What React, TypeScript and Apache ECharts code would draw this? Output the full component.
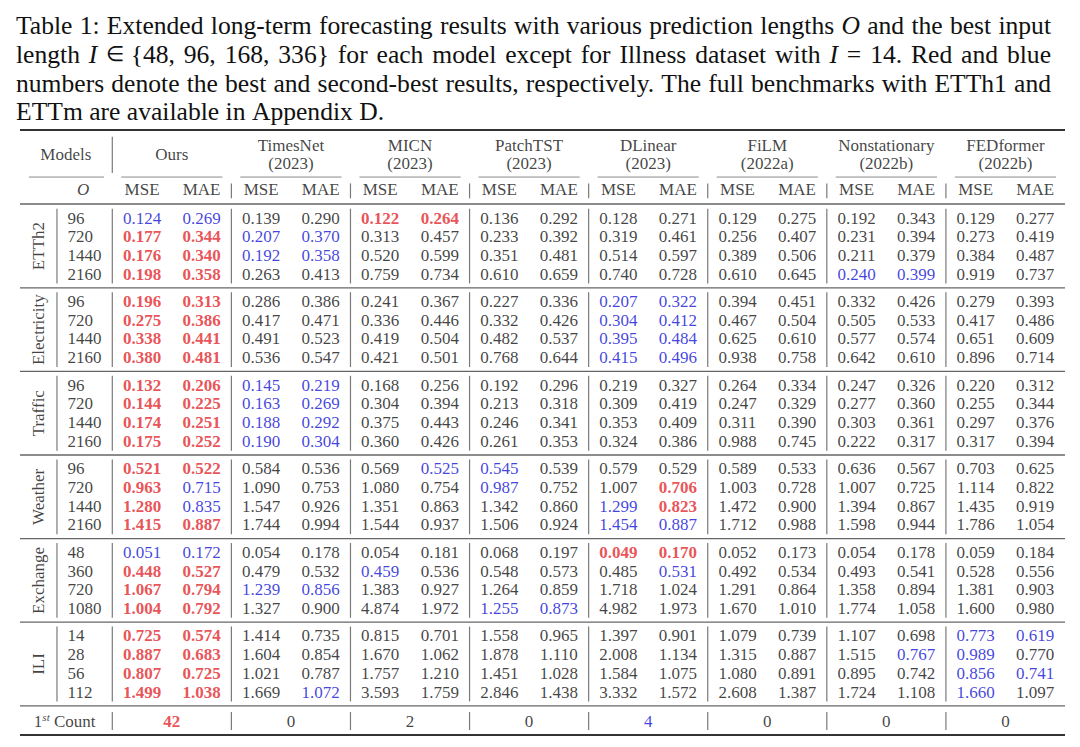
import React, { useEffect, useRef } from 'react';
import * as echarts from 'echarts';

// ---------------- data ----------------
const datasets = ['ETTh2', 'Electricity', 'Traffic', 'Weather', 'Exchange', 'ILI'];
const horizons = [
  [96, 720, 1440, 2160],
  [96, 720, 1440, 2160],
  [96, 720, 1440, 2160],
  [96, 720, 1440, 2160],
  [48, 360, 720, 1080],
  [14, 28, 56, 112],
];
const models = ['Ours', 'TimesNet', 'MICN', 'PatchTST', 'DLinear', 'FiLM', 'Nonstationary', 'FEDformer'];
const modelYears = ['', '(2023)', '(2023)', '(2023)', '(2023)', '(2022a)', '(2022b)', '(2022b)'];
const metrics = ['MSE', 'MAE'];

const oursMSE = [0.124, 0.177, 0.176, 0.198, 0.196, 0.275, 0.338, 0.380, 0.132, 0.144, 0.174, 0.175, 0.521, 0.963, 1.280, 1.415, 0.051, 0.448, 1.067, 1.004, 0.725, 0.887, 0.807, 1.499];
const oursMAE = [0.269, 0.344, 0.340, 0.358, 0.313, 0.386, 0.441, 0.481, 0.206, 0.225, 0.251, 0.252, 0.522, 0.715, 0.835, 0.887, 0.172, 0.527, 0.794, 0.792, 0.574, 0.683, 0.725, 1.038];
const timesNetMSE = [0.139, 0.207, 0.192, 0.263, 0.286, 0.417, 0.491, 0.536, 0.145, 0.163, 0.188, 0.190, 0.584, 1.090, 1.547, 1.744, 0.054, 0.479, 1.239, 1.327, 1.414, 1.604, 1.021, 1.669];
const timesNetMAE = [0.290, 0.370, 0.358, 0.413, 0.386, 0.471, 0.523, 0.547, 0.219, 0.269, 0.292, 0.304, 0.536, 0.753, 0.926, 0.994, 0.178, 0.532, 0.856, 0.900, 0.735, 0.854, 0.787, 1.072];
const micnMSE = [0.122, 0.313, 0.520, 0.759, 0.241, 0.336, 0.419, 0.421, 0.168, 0.304, 0.375, 0.360, 0.569, 1.080, 1.351, 1.544, 0.054, 0.459, 1.383, 4.874, 0.815, 1.670, 1.757, 3.593];
const micnMAE = [0.264, 0.457, 0.599, 0.734, 0.367, 0.446, 0.504, 0.501, 0.256, 0.394, 0.443, 0.426, 0.525, 0.754, 0.863, 0.937, 0.181, 0.536, 0.927, 1.972, 0.701, 1.062, 1.210, 1.759];
const patchTSTMSE = [0.136, 0.233, 0.351, 0.610, 0.227, 0.332, 0.482, 0.768, 0.192, 0.213, 0.246, 0.261, 0.545, 0.987, 1.342, 1.506, 0.068, 0.548, 1.264, 1.255, 1.558, 1.878, 1.451, 2.846];
const patchTSTMAE = [0.292, 0.392, 0.481, 0.659, 0.336, 0.426, 0.537, 0.644, 0.296, 0.318, 0.341, 0.353, 0.539, 0.752, 0.860, 0.924, 0.197, 0.573, 0.859, 0.873, 0.965, 1.110, 1.028, 1.438];
const dLinearMSE = [0.128, 0.319, 0.514, 0.740, 0.207, 0.304, 0.395, 0.415, 0.219, 0.309, 0.353, 0.324, 0.579, 1.007, 1.299, 1.454, 0.049, 0.485, 1.718, 4.982, 1.397, 2.008, 1.584, 3.332];
const dLinearMAE = [0.271, 0.461, 0.597, 0.728, 0.322, 0.412, 0.484, 0.496, 0.327, 0.419, 0.409, 0.386, 0.529, 0.706, 0.823, 0.887, 0.170, 0.531, 1.024, 1.973, 0.901, 1.134, 1.075, 1.572];
const filmMSE = [0.129, 0.256, 0.389, 0.610, 0.394, 0.467, 0.625, 0.938, 0.264, 0.247, 0.311, 0.988, 0.589, 1.003, 1.472, 1.712, 0.052, 0.492, 1.291, 1.670, 1.079, 1.315, 1.080, 2.608];
const filmMAE = [0.275, 0.407, 0.506, 0.645, 0.451, 0.504, 0.610, 0.758, 0.334, 0.329, 0.390, 0.745, 0.533, 0.728, 0.900, 0.988, 0.173, 0.534, 0.864, 1.010, 0.739, 0.887, 0.891, 1.387];
const nonstationaryMSE = [0.192, 0.231, 0.211, 0.240, 0.332, 0.505, 0.577, 0.642, 0.247, 0.277, 0.303, 0.222, 0.636, 1.007, 1.394, 1.598, 0.054, 0.493, 1.358, 1.774, 1.107, 1.515, 0.895, 1.724];
const nonstationaryMAE = [0.343, 0.394, 0.379, 0.399, 0.426, 0.533, 0.574, 0.610, 0.326, 0.360, 0.361, 0.317, 0.567, 0.725, 0.867, 0.944, 0.178, 0.541, 0.894, 1.058, 0.698, 0.767, 0.742, 1.108];
const fedformerMSE = [0.129, 0.273, 0.384, 0.919, 0.279, 0.417, 0.651, 0.896, 0.220, 0.255, 0.297, 0.317, 0.703, 1.114, 1.435, 1.786, 0.059, 0.528, 1.381, 1.600, 0.773, 0.989, 0.856, 1.660];
const fedformerMAE = [0.277, 0.419, 0.487, 0.737, 0.393, 0.486, 0.609, 0.714, 0.312, 0.344, 0.376, 0.394, 0.625, 0.822, 0.919, 1.054, 0.184, 0.556, 0.903, 0.980, 0.619, 0.770, 0.741, 1.097];

const firstCount = [42, 0, 2, 0, 4, 0, 0, 0];

const captionLines = [
  'Table 1: Extended long-term forecasting results with various prediction lengths _O and the best input',
  'length _I ∈ {48, 96, 168, 336} for each model except for Illness dataset with _I = 14. Red and blue',
  'numbers denote the best and second-best results, respectively. The full benchmarks with ETTh1 and',
  'ETTm are available in Appendix D.',
];

// ---------------- style / layout ----------------
const FONT = '"Liberation Serif", "Times New Roman", Times, serif';
const INK = '#111';
const RED = '#e3262b';
const BLUE = '#1212d6';
const CELL_SIZE = 17;
const CAP_SIZE = 25.6;

const mseCols = [oursMSE, timesNetMSE, micnMSE, patchTSTMSE, dLinearMSE, filmMSE, nonstationaryMSE, fedformerMSE];
const maeCols = [oursMAE, timesNetMAE, micnMAE, patchTSTMAE, dLinearMAE, filmMAE, nonstationaryMAE, fedformerMAE];

const GROUP_PERIOD = 4.47;
const slot = (g: number, r: number) => g * GROUP_PERIOD + r;
const XL = -2.05;
const XR = 15.5;

function buildOption(captionEls: any[]) {
  const cells: any[] = [];
  const nRows = oursMSE.length;
  for (let i = 0; i < nRows; i++) {
    const g = Math.floor(i / 4);
    const r = i % 4;
    const y = slot(g, r);
    [mseCols, maeCols].forEach((cols, k) => {
      const order = models
        .map((_, m) => ({ m, v: cols[m][i] }))
        .sort((a, b) => a.v - b.v || a.m - b.m);
      models.forEach((_, m) => {
        const v = cols[m][i];
        let color = INK;
        let fontWeight: any = 'normal';
        if (order[0].m === m) { color = RED; fontWeight = 'bold'; }
        else if (order[1].m === m) { color = BLUE; }
        cells.push({ name: v.toFixed(3), value: [2 * m + k, y], label: { color, fontWeight } });
      });
    });
  }

  const horizonPts: any[] = [];
  horizons.forEach((hs, g) => hs.forEach((h, r) => horizonPts.push({ name: String(h), value: [-1.26, slot(g, r)] })));

  const dsPts = datasets.map((d, g) => ({ name: d, value: [-1.745, slot(g, 1.5)] }));

  const headerPts: any[] = [];
  headerPts.push({ name: 'Models', value: [-1.28, -3.42] });
  headerPts.push({ name: 'Ours', value: [0.5, -3.42] });
  models.forEach((m, i) => {
    if (i === 0) return;
    headerPts.push({ name: m, value: [2 * i + 0.5, -3.9] });
    headerPts.push({ name: modelYears[i], value: [2 * i + 0.5, -2.89] });
  });
  headerPts.push({ name: 'O', value: [-0.99, -1.5], label: { fontStyle: 'italic' } });
  models.forEach((_, i) => metrics.forEach((mt, k) => headerPts.push({ name: mt, value: [2 * i + k, -1.5] })));

  const COUNT_Y = 26.9;
  const sortedCounts = firstCount.map((c, i) => ({ c, i })).sort((a, b) => b.c - a.c);
  const countPts = firstCount.map((c, i) => {
    let color = INK;
    let fontWeight: any = 'normal';
    if (sortedCounts[0].i === i) { color = RED; fontWeight = 'bold'; }
    else if (sortedCounts[1].i === i) { color = BLUE; }
    return { name: String(c), value: [2 * i + 0.5, COUNT_Y], label: { color, fontWeight } };
  });

  // rules and vertical lines: [x1, x2, y1, y2, kind]
  const lines: number[][] = [];
  lines.push([XL, XR, -4.7, -4.7, 0]);
  lines.push([-0.5, -0.5, -4.35, -2.4, 2]);
  lines.push([-1.9, -0.64, -2.19, -2.19, 3]);
  models.forEach((_, m) => lines.push([2 * m - 0.35, 2 * m + 1.35, -2.19, -2.19, 3]));
  for (let b = 1.5; b < 14; b += 2) lines.push([b, b, -1.85, -1.05, 2]);
  lines.push([XL, XR, -0.75, -0.75, 1]);
  datasets.forEach((_, g) => {
    const y1 = slot(g, 0) - 0.5;
    const y2 = slot(g, 3) + 0.5;
    lines.push([-1.429, -1.429, y1, y2, 2]);
    lines.push([-0.5, -0.5, y1, y2, 2]);
    for (let b = 1.5; b < 14; b += 2) lines.push([b, b, y1, y2, 2]);
    const sep = slot(g, 3) + 0.735;
    lines.push([XL, XR, sep, sep, 1]);
  });
  lines.push([-0.5, -0.5, COUNT_Y - 0.48, COUNT_Y + 0.48, 2]);
  for (let b = 1.5; b < 14; b += 2) lines.push([b, b, COUNT_Y - 0.48, COUNT_Y + 0.48, 2]);
  lines.push([XL, XR, 27.65, 27.65, 0]);

  const lineStyles = [
    { stroke: '#333', lineWidth: 2 },
    { stroke: '#666', lineWidth: 1.3 },
    { stroke: '#7a7a7a', lineWidth: 1.2 },
    { stroke: '#8a8a8a', lineWidth: 1 },
  ];

  const baseLabel = {
    show: true,
    position: 'inside',
    formatter: (p: any) => p.name,
    fontFamily: FONT,
    fontSize: CELL_SIZE,
    color: INK,
  };
  const textSeries = (data: any[], extra: any = {}) => ({
    type: 'scatter',
    symbolSize: 1,
    itemStyle: { color: 'rgba(0,0,0,0)' },
    silent: true,
    emphasis: { disabled: true },
    data,
    label: { ...baseLabel, ...extra },
    z: 3,
  });

  return {
    animation: false,
    grid: { left: 20, right: 15, top: 124.5, bottom: 5.4 },
    xAxis: { type: 'value', min: XL, max: XR, show: false },
    yAxis: { type: 'value', min: -5, max: 28, inverse: true, show: false },
    graphic: captionEls,
    series: [
      {
        type: 'custom',
        silent: true,
        z: 1,
        data: lines,
        renderItem: (_params: any, api: any) => {
          const p1 = api.coord([api.value(0), api.value(2)]);
          const p2 = api.coord([api.value(1), api.value(3)]);
          const st = lineStyles[api.value(4)];
          return {
            type: 'line',
            shape: { x1: p1[0], y1: p1[1], x2: p2[0], y2: p2[1] },
            style: { stroke: st.stroke, lineWidth: st.lineWidth },
          };
        },
      },
      textSeries(cells),
      textSeries(horizonPts, { position: 'right', distance: 0 }),
      textSeries(dsPts, { rotate: 90 }),
      textSeries(headerPts),
      textSeries(countPts),
      textSeries([{ name: '1st Count', value: [-1.3, COUNT_Y] }], {
        formatter: '{a|1}{s|st}{a| Count}',
        rich: {
          a: { fontFamily: FONT, fontSize: CELL_SIZE, color: INK, lineHeight: 20 },
          s: { fontFamily: FONT, fontSize: 11, fontStyle: 'italic', color: INK, lineHeight: 12, verticalAlign: 'top' },
        },
      }),
    ],
  };
}

function buildCaption(): any[] {
  const canvas = document.createElement('canvas');
  const ctx = canvas.getContext('2d') as CanvasRenderingContext2D;
  const left = 16;
  const right = 1051;
  const ys = [25.6, 54.3, 83, 111.6];
  const els: any[] = [];
  captionLines.forEach((line, li) => {
    const words = line.split(' ').map((w) => {
      const italic = w.startsWith('_');
      const text = italic ? w.slice(1) : w;
      const size = text === '∈' ? CAP_SIZE * 0.82 : CAP_SIZE;
      return { text, italic, size };
    });
    const widths = words.map((w) => {
      ctx.font = `${w.italic ? 'italic ' : ''}${w.size}px "Liberation Serif", "DejaVu Serif", serif`;
      return ctx.measureText(w.text).width;
    });
    const total = widths.reduce((a, b) => a + b, 0);
    const justify = li < captionLines.length - 1;
    const gap = justify ? (right - left - total) / (words.length - 1) : CAP_SIZE * 0.25;
    let x = left;
    words.forEach((w, i) => {
      els.push({
        type: 'text',
        x,
        y: ys[li],
        silent: true,
        style: {
          text: w.text,
          fontFamily: FONT,
          fontSize: w.size,
          fontStyle: w.italic ? 'italic' : 'normal',
          fill: '#111',
          align: 'left',
          verticalAlign: 'middle',
          textAlign: 'left',
          textVerticalAlign: 'middle',
        },
      });
      x += widths[i] + gap;
    });
  });
  return els;
}

export default function App() {
  const ref = useRef<HTMLDivElement>(null);
  useEffect(() => {
    if (!ref.current) return;
    const chart = echarts.init(ref.current, undefined, { renderer: 'svg' });
    chart.setOption(buildOption(buildCaption()) as any);
    return () => chart.dispose();
  }, []);
  return (
    <div
      ref={ref}
      style={{ position: 'fixed', left: 0, top: 0, width: 1080, height: 747, background: '#fff' }}
    />
  );
}
